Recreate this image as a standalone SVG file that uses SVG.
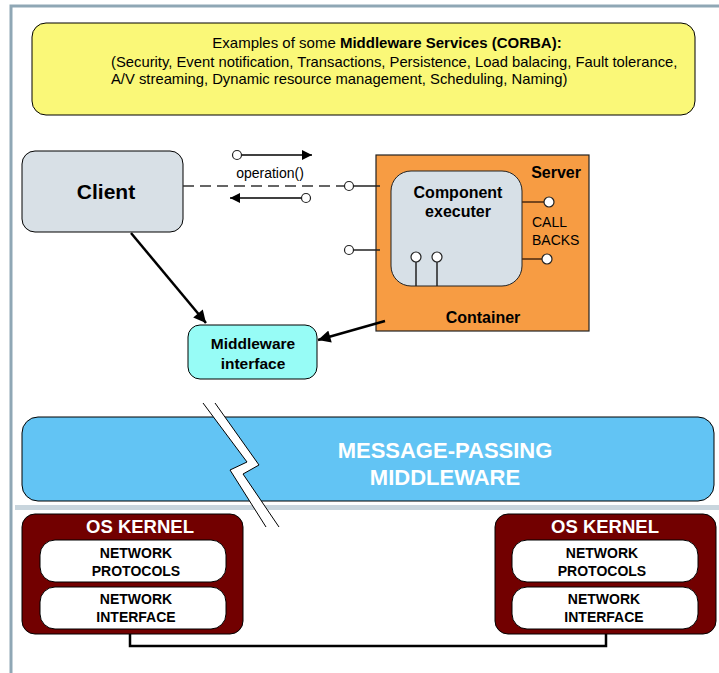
<svg xmlns="http://www.w3.org/2000/svg" width="719" height="673" viewBox="0 0 719 673">
<defs>
<style>
text{font-family:"Liberation Sans",Arial,sans-serif;}
.b{font-weight:bold;}
.port{fill:#fff;stroke:#222;stroke-width:1.2;}
.pl{stroke:#222;stroke-width:1.5;fill:none;}
.cb{stroke:#4a2a10;stroke-width:1.5;fill:none;}
.conn{stroke:#000;stroke-width:2.5;fill:none;}
.inner{fill:#fff;stroke:#000;stroke-width:1;}
.kern{fill:#720000;stroke:#000;stroke-width:1;}
</style>
<marker id="ah" viewBox="0 0 10 10" refX="10" refY="5" markerWidth="5.5" markerHeight="5" orient="auto" markerUnits="strokeWidth">
<path d="M0,0 L10,5 L0,10 Z" fill="#000"/>
</marker>
<marker id="ahs" viewBox="0 0 10 10" refX="10" refY="5" markerWidth="13" markerHeight="10" orient="auto" markerUnits="userSpaceOnUse">
<path d="M0,0 L10,5 L0,10 Z" fill="#000"/>
</marker>
</defs>
<rect width="719" height="673" fill="#fff"/>
<!-- frame -->
<path d="M11,673 V6 H719" fill="none" stroke="#8fa7b5" stroke-width="3"/>
<rect x="15" y="505" width="704" height="5" fill="#c8d5dd"/>

<g id="services">
<rect x="32" y="23" width="663" height="92" rx="14" fill="#faf878" stroke="#000" stroke-width="1"/>
<text x="387" y="48" font-size="15" text-anchor="middle">Examples of some <tspan class="b">Middleware Services (CORBA):</tspan></text>
<text x="111" y="67" font-size="14.8">(Security, Event notification, Transactions, Persistence, Load balacing, Fault tolerance,</text>
<text x="111" y="84" font-size="14.8">A/V streaming, Dynamic resource management, Scheduling, Naming)</text>
</g>

<g id="client">
<rect x="22" y="151" width="161" height="81" rx="13" fill="#d8e0e6" stroke="#000" stroke-width="1"/>
<text x="106" y="199" font-size="21" class="b" text-anchor="middle">Client</text>
</g>

<g id="container">
<rect x="376" y="155" width="213" height="176" fill="#f79c43" stroke="#222" stroke-width="1.2"/>
<text x="581" y="178" font-size="16" class="b" text-anchor="end">Server</text>
<text x="483" y="323" font-size="16" class="b" text-anchor="middle">Container</text>
<text x="532" y="227" font-size="14">CALL</text>
<text x="532" y="245" font-size="14">BACKS</text>
</g>

<g id="component">
<rect x="391" y="171" width="131" height="115" rx="20" fill="#d7e0e7" stroke="#222" stroke-width="1"/>
<text x="458" y="198" font-size="16" class="b" text-anchor="middle">Component</text>
<text x="458" y="217" font-size="16" class="b" text-anchor="middle">executer</text>
</g>

<g id="middleware-interface">
<rect x="188" y="325" width="129" height="54" rx="12" fill="#97fcf6" stroke="#000" stroke-width="1"/>
<text x="253" y="349" font-size="15.5" class="b" text-anchor="middle">Middleware</text>
<text x="253" y="369" font-size="15.5" class="b" text-anchor="middle">interface</text>
</g>

<g id="mpm">
<rect x="22" y="417" width="692" height="84" rx="16" fill="#62c4f4" stroke="#000" stroke-width="1"/>
<text x="445" y="458" font-size="22" class="b" fill="#fff" text-anchor="middle">MESSAGE-PASSING</text>
<text x="445" y="485" font-size="22" class="b" fill="#fff" text-anchor="middle">MIDDLEWARE</text>
</g>

<g id="kernel-left">
<rect class="kern" x="22" y="514" width="221" height="120" rx="13"/>
<text x="140" y="533" font-size="18.5" class="b" fill="#fff" text-anchor="middle">OS KERNEL</text>
<rect class="inner" x="40" y="540" width="186" height="42" rx="15"/>
<text x="136" y="558" font-size="14" class="b" text-anchor="middle">NETWORK</text>
<text x="136" y="576" font-size="14" class="b" text-anchor="middle">PROTOCOLS</text>
<rect class="inner" x="40" y="587" width="186" height="42" rx="15"/>
<text x="136" y="604" font-size="14" class="b" text-anchor="middle">NETWORK</text>
<text x="136" y="622" font-size="14" class="b" text-anchor="middle">INTERFACE</text>
</g>

<g id="kernel-right">
<rect class="kern" x="495" y="514" width="221" height="120" rx="13"/>
<text x="605" y="533" font-size="18.5" class="b" fill="#fff" text-anchor="middle">OS KERNEL</text>
<rect class="inner" x="512" y="540" width="186" height="42" rx="15"/>
<text x="602" y="558" font-size="14" class="b" text-anchor="middle">NETWORK</text>
<text x="602" y="576" font-size="14" class="b" text-anchor="middle">PROTOCOLS</text>
<rect class="inner" x="512" y="587" width="186" height="42" rx="15"/>
<text x="604" y="604" font-size="14" class="b" text-anchor="middle">NETWORK</text>
<text x="604" y="622" font-size="14" class="b" text-anchor="middle">INTERFACE</text>
</g>

<g id="connectors">
<!-- dashed invocation -->
<line x1="183" y1="186" x2="344" y2="186" stroke="#333" stroke-width="1.3" stroke-dasharray="11,6"/>
<line class="pl" x1="353" y1="186" x2="380" y2="186"/>
<circle class="port" cx="349" cy="186" r="4.5"/>
<line class="pl" x1="353" y1="250" x2="380" y2="250"/>
<circle class="port" cx="349" cy="250" r="4.5"/>
<!-- operation arrows -->
<line x1="241" y1="155" x2="312" y2="155" stroke="#000" stroke-width="1.3" marker-end="url(#ahs)"/>
<circle class="port" cx="237" cy="155" r="4.5"/>
<text x="270" y="178" font-size="14" text-anchor="middle">operation()</text>
<line x1="302" y1="198" x2="230" y2="198" stroke="#000" stroke-width="1.3" marker-end="url(#ahs)"/>
<circle class="port" cx="306" cy="198" r="4.5"/>
<!-- callbacks -->
<line class="cb" x1="522" y1="202" x2="544" y2="202"/>
<circle class="port" cx="549" cy="202" r="5"/>
<line class="cb" x1="522" y1="259" x2="542" y2="259"/>
<circle class="port" cx="547" cy="259" r="5"/>
<!-- internal ports -->
<line class="pl" x1="416" y1="262" x2="416" y2="286"/>
<circle class="port" cx="416" cy="257" r="5"/>
<line class="pl" x1="437" y1="262" x2="437" y2="286"/>
<circle class="port" cx="437" cy="257" r="5"/>
<!-- client -> middleware interface -->
<line class="conn" x1="131" y1="233" x2="206" y2="323" marker-end="url(#ah)"/>
<!-- container -> middleware interface -->
<line class="conn" x1="385" y1="321" x2="318" y2="340" marker-end="url(#ah)"/>
<!-- kernel link -->
<path class="conn" d="M130,634 V646 H606 V634" stroke-width="3"/>
</g>

<g id="break">
<polygon points="203,403 215,403 259,465 243,474 279,527 266,527 230,470 247,462" fill="#fff"/>
<polyline points="203,403 247,462 230,470 266,527" fill="none" stroke="#000" stroke-width="1"/>
<polyline points="215,403 259,465 243,474 279,527" fill="none" stroke="#000" stroke-width="1"/>
</g>
</svg>
